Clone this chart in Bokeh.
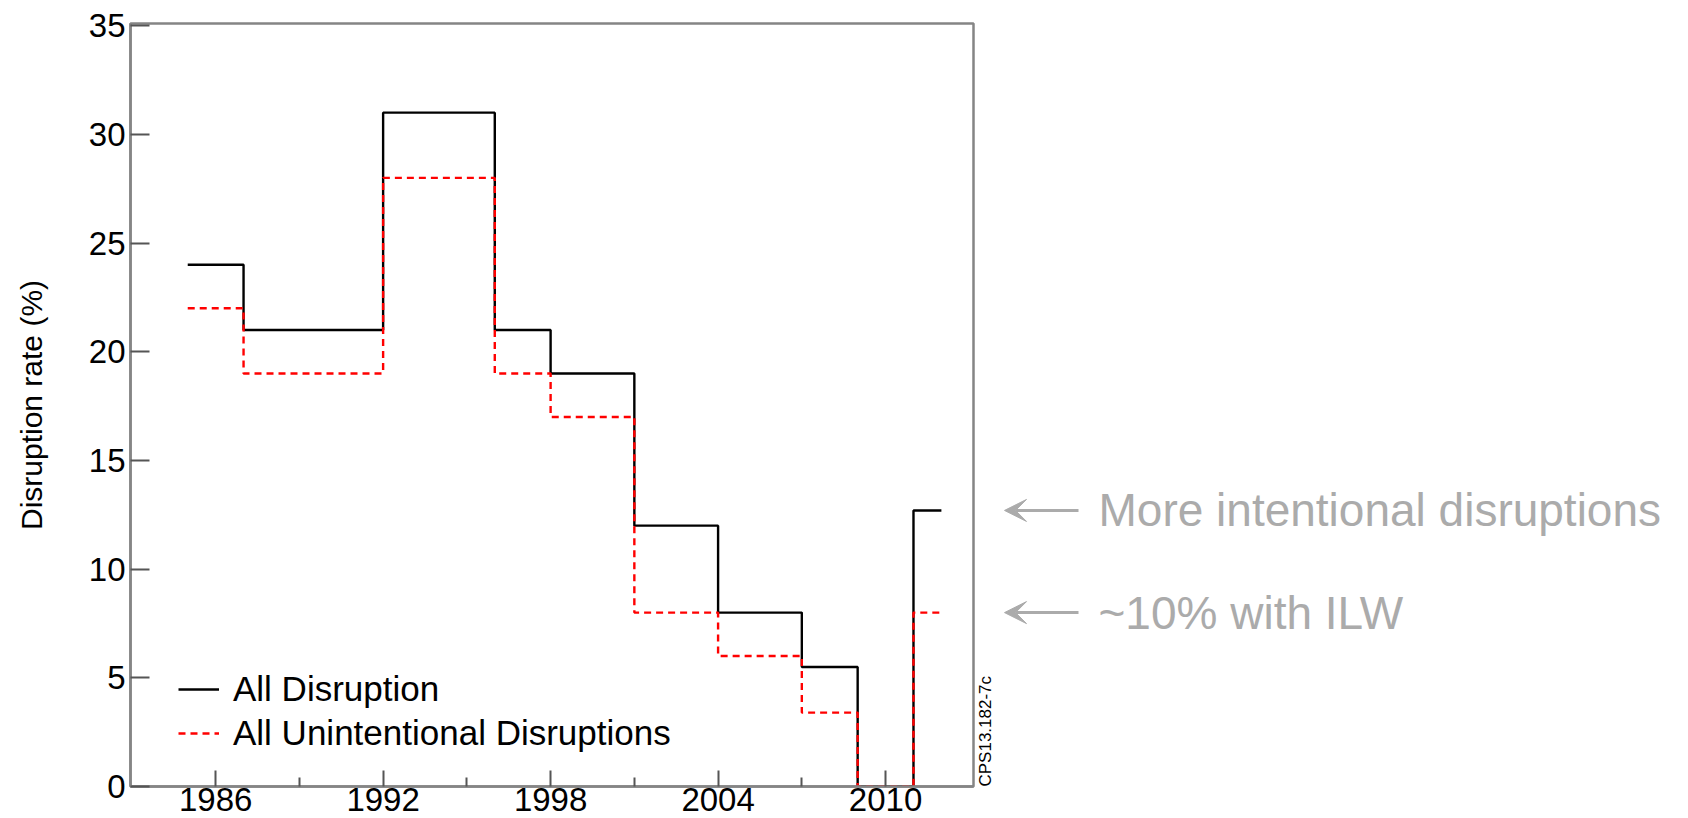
from bokeh.plotting import figure
from bokeh.layouts import row
from bokeh.models import Range1d, FixedTicker, Legend, LegendItem, Label, Arrow, VeeHead
from bokeh.embed import file_html
from bokeh.resources import INLINE

# ---- data ----
edges = [1985, 1987, 1992, 1996, 1998, 2001, 2004, 2007, 2009, 2011, 2012]
all_disruption = [24, 21, 31, 21, 19, 12, 8, 5.5, 0, 12.7]
all_unintentional = [22, 19, 28, 19, 17, 8, 6, 3.4, 0, 8]
series_names = ["All Disruption", "All Unintentional Disruptions"]
x_major_ticks = [1986, 1992, 1998, 2004, 2010]
x_minor_ticks = [1989, 1995, 2001, 2007]
y_major_ticks = [0, 5, 10, 15, 20, 25, 30, 35]
y_label = "Disruption rate (%)"
figure_code = "CPS13.182-7c"
notes = ["More intentional disruptions", "~10% with ILW"]

FONT = "Liberation Sans"
AXIS_GRAY = "#858585"
NOTE_GRAY = "#ababab"
TOP, BOTTOM = 23, 32
MAIN_W, TOTAL_W, H = 976, 1688, 818

y_range = Range1d(0, 35.1)

p = figure(width=MAIN_W, height=H, output_backend="svg", toolbar_location=None,
           x_range=Range1d(1982.95, 2013.15), y_range=y_range,
           min_border_left=130, min_border_top=TOP, min_border_right=3,
           min_border_bottom=BOTTOM)

p.xgrid.visible = False
p.ygrid.visible = False
p.outline_line_color = AXIS_GRAY
p.outline_line_width = 2.5
p.background_fill_color = "white"
p.border_fill_color = "white"

r_all = p.step(x=edges, y=all_disruption + [all_disruption[-1]], mode="after",
               line_color="black", line_width=2.4)
r_unint = p.step(x=edges, y=all_unintentional + [all_unintentional[-1]], mode="after",
                 line_color="#ff0000", line_width=2.4, line_dash="7 5")

# axes
xa = p.xaxis[0]
xa.ticker = FixedTicker(ticks=x_major_ticks, minor_ticks=x_minor_ticks)
ya = p.yaxis[0]
ya.ticker = FixedTicker(ticks=y_major_ticks)
for ax in (xa, ya):
    ax.axis_line_color = AXIS_GRAY
    ax.axis_line_width = 2.5
    ax.major_tick_line_color = "#555555"
    ax.major_tick_line_width = 2
    ax.minor_tick_line_color = "#555555"
    ax.minor_tick_line_width = 2
    ax.major_tick_out = 0
    ax.minor_tick_out = 0
    ax.major_label_text_font = FONT
    ax.major_label_text_font_size = "33px"
    ax.major_label_text_color = "black"
xa.major_tick_in = 16
xa.minor_tick_in = 9
xa.major_label_standoff = 1
ya.major_tick_in = 19
ya.minor_tick_line_color = None
ya.major_label_standoff = 5
ya.axis_label = y_label
ya.axis_label_text_font = FONT
ya.axis_label_text_font_size = "30px"
ya.axis_label_text_font_style = "normal"
ya.axis_label_text_color = "black"
ya.axis_label_standoff = 38

legend = Legend(items=[LegendItem(label=series_names[0], renderers=[r_all]),
                       LegendItem(label=series_names[1], renderers=[r_unint])],
                location=(48, 33), padding=0, margin=0, spacing=4,
                glyph_width=41, label_standoff=14,
                label_text_font=FONT, label_text_font_size="35px",
                label_text_color="black",
                border_line_alpha=0, background_fill_alpha=0)
p.add_layout(legend, "center")

# ---- right-hand annotation panel (shares the y scale) ----
q = figure(width=TOTAL_W - MAIN_W, height=H, output_backend="svg", toolbar_location=None,
           x_range=Range1d(MAIN_W, TOTAL_W), y_range=y_range,
           x_axis_location=None, y_axis_location=None,
           min_border_left=0, min_border_right=0, min_border_top=TOP,
           min_border_bottom=BOTTOM)
q.xgrid.visible = False
q.ygrid.visible = False
q.outline_line_color = None
q.background_fill_color = "white"
q.border_fill_color = "white"

q.add_layout(Label(x=985, y=0, text=figure_code, angle=1.5708,
                   text_font=FONT, text_font_size="17px", text_color="black",
                   text_align="left", text_baseline="alphabetic"))

for val, txt in zip([all_disruption[-1], all_unintentional[-1]], notes):
    q.add_layout(Arrow(x_start=1078, y_start=val, x_end=1004, y_end=val,
                       line_color=NOTE_GRAY, line_width=3,
                       end=VeeHead(size=22, fill_color=NOTE_GRAY, line_color=NOTE_GRAY)))
    q.add_layout(Label(x=1098, y=val, text=txt, text_font=FONT,
                       text_font_size="46px", text_color=NOTE_GRAY,
                       text_align="left", text_baseline="middle"))

layout = row(p, q, spacing=0)
open("out.html", "w").write(file_html(layout, INLINE))
